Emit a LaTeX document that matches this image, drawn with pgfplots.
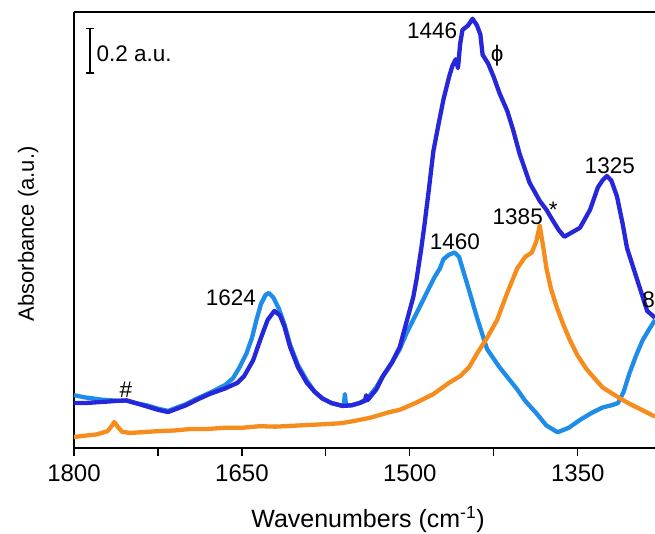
\documentclass[border=0pt]{standalone}
\usepackage{fontspec}
\setmainfont{Liberation Sans}
\usepackage{pgfplots}
\pgfplotsset{compat=1.18}

\definecolor{darkblue}{RGB}{38,38,218}
\definecolor{lightblue}{RGB}{30,140,232}
\definecolor{orng}{RGB}{246,140,28}

% dark blue trace (1446 / 1325 bands)
\pgfplotstableread{
w y
1800 0.200
1790 0.200
1775 0.205
1760 0.210
1753 0.212
1745 0.200
1735 0.185
1725 0.170
1716 0.160
1708 0.175
1700 0.190
1690 0.215
1679 0.240
1665 0.265
1654 0.290
1648 0.320
1640 0.390
1633 0.490
1627 0.570
1621 0.610
1616 0.590
1612 0.540
1607 0.450
1600 0.360
1592 0.290
1585 0.250
1578 0.220
1570 0.200
1560 0.187
1552 0.190
1545 0.200
1540 0.210
1539 0.235
1538 0.212
1530 0.260
1524 0.320
1516 0.380
1509 0.450
1503 0.560
1497 0.670
1494 0.750
1490 0.880
1487 0.990
1483 1.150
1479 1.320
1474 1.450
1470 1.550
1465 1.650
1462 1.700
1459 1.730
1457 1.690
1455 1.800
1453 1.860
1448 1.880
1444 1.910
1440 1.880
1437 1.840
1435 1.750
1430 1.710
1425 1.650
1420 1.580
1413 1.500
1408 1.420
1402 1.310
1393 1.180
1384 1.100
1378 1.060
1372 1.010
1367 0.970
1362 0.940
1355 0.960
1348 0.980
1339 1.060
1332 1.160
1328 1.190
1324 1.210
1320 1.190
1315 1.120
1310 1.000
1306 0.890
1297 0.750
1288 0.610
1281 0.580
}\darktab

% light blue trace (1624 / 1460 bands)
\pgfplotstableread{
w y
1800 0.235
1790 0.225
1775 0.215
1760 0.210
1753 0.210
1745 0.200
1735 0.190
1725 0.175
1716 0.165
1708 0.180
1700 0.195
1690 0.220
1679 0.245
1665 0.280
1658 0.310
1652 0.360
1646 0.420
1641 0.490
1637 0.570
1633 0.640
1629 0.680
1626 0.690
1622 0.670
1617 0.620
1612 0.550
1607 0.460
1600 0.370
1592 0.300
1585 0.250
1578 0.220
1570 0.200
1562 0.190
1559 0.190
1558 0.240
1557 0.190
1552 0.190
1545 0.200
1538 0.220
1530 0.270
1524 0.320
1516 0.380
1509 0.440
1503 0.510
1500 0.540
1494 0.600
1485 0.690
1478 0.760
1473 0.800
1470 0.840
1465 0.860
1460 0.870
1456 0.850
1453 0.800
1447 0.700
1440 0.580
1431 0.440
1420 0.360
1412 0.310
1404 0.260
1397 0.210
1387 0.155
1378 0.100
1368 0.070
1358 0.090
1348 0.125
1338 0.155
1328 0.180
1320 0.190
1314 0.200
1309 0.250
1304 0.330
1298 0.410
1292 0.480
1286 0.530
1281 0.570
}\lighttab

% orange trace (1385 band)
\pgfplotstableread{
w y
1800 0.049
1790 0.055
1780 0.060
1770 0.075
1766 0.100
1764 0.116
1761 0.095
1757 0.072
1750 0.067
1740 0.070
1725 0.075
1710 0.078
1695 0.085
1680 0.085
1665 0.090
1650 0.090
1634 0.097
1620 0.095
1600 0.100
1580 0.105
1562 0.110
1550 0.120
1535 0.135
1518 0.160
1509 0.170
1495 0.200
1479 0.240
1465 0.290
1455 0.320
1447 0.360
1440 0.420
1431 0.490
1422 0.570
1413 0.690
1404 0.800
1397 0.850
1391 0.870
1387 0.920
1384 0.990
1381 0.900
1378 0.800
1374 0.710
1369 0.630
1363 0.550
1357 0.480
1350 0.410
1342 0.350
1335 0.310
1328 0.270
1320 0.245
1312 0.220
1305 0.200
1297 0.180
1289 0.160
1281 0.140
}\orangetab

\begin{document}
\begin{tikzpicture}[font=\fontsize{22.5}{26}\selectfont]
\begin{axis}[
  scale only axis,
  width=581pt, height=436pt,
  x dir=reverse,
  xmin=1281, xmax=1800,
  ymin=0, ymax=1.94,
  axis lines=left,
  axis line style={-, line width=1.3pt},
  xtick={1800,1650,1500,1350},
  minor x tick num=1,
  ytick=\empty,
  tick align=outside,
  major tick length=8pt,
  minor tick length=8pt,
  every tick/.style={black, line width=1.2pt},
  /pgf/number format/assume math mode=true,
  /pgf/number format/set thousands separator={},
  xticklabel style={font=\fontsize{24}{28}\selectfont, yshift=-5pt},
  xlabel={Wavenumbers (cm\textsuperscript{-1})},
  ylabel={Absorbance (a.u.)},
  every axis x label/.style={at={(axis description cs:0.506,-0.165)}, anchor=center, font=\fontsize{25}{29}\selectfont},
  every axis y label/.style={at={(axis description cs:-0.079,0.491)}, anchor=center, rotate=90, font=\fontsize{22}{26}\selectfont},
  clip=false,
]
\addplot[lightblue, line width=4.3pt, line join=round] table[x=w, y=y] {\lighttab};
\addplot[orng, line width=4.3pt, line join=round] table[x=w, y=y] {\orangetab};
\addplot[darkblue, line width=4.3pt, line join=round] table[x=w, y=y] {\darktab};

\draw[line width=1.3pt] (rel axis cs:0,1) -- (rel axis cs:1,1);
\coordinate (bl) at (rel axis cs:0,0);
\coordinate (tr) at (rel axis cs:1,1);

% scale bar
\draw[line width=1.8pt] (axis cs:1785.7,1.667) -- (axis cs:1785.7,1.867);
\draw[line width=1.8pt] (axis cs:1789.3,1.667) -- (axis cs:1782.1,1.667);
\draw[line width=1.8pt] (axis cs:1789.3,1.867) -- (axis cs:1782.1,1.867);
\node[anchor=west, inner sep=0pt] at (axis cs:1780,1.756) {0.2 a.u.};

% band labels
\node at (axis cs:1659.8,0.67) {1624};
\node at (axis cs:1753.6,0.258) {\#};
\node at (axis cs:1459.8,0.916) {1460};
\node at (axis cs:1480,1.858) {1446};
\node at (axis cs:1422,1.747) {ϕ};
\node at (axis cs:1403.6,1.027) {1385};
\node at (axis cs:1372,1.06) {*};
\node at (axis cs:1321.4,1.258) {1325};
\node[anchor=east, inner sep=0pt] at (axis cs:1281,0.66) {8};
\end{axis}
\pgfresetboundingbox
\path ([shift={(-74pt,-85pt)}]bl) rectangle ([shift={(0pt,12pt)}]tr);
\end{tikzpicture}
\end{document}
